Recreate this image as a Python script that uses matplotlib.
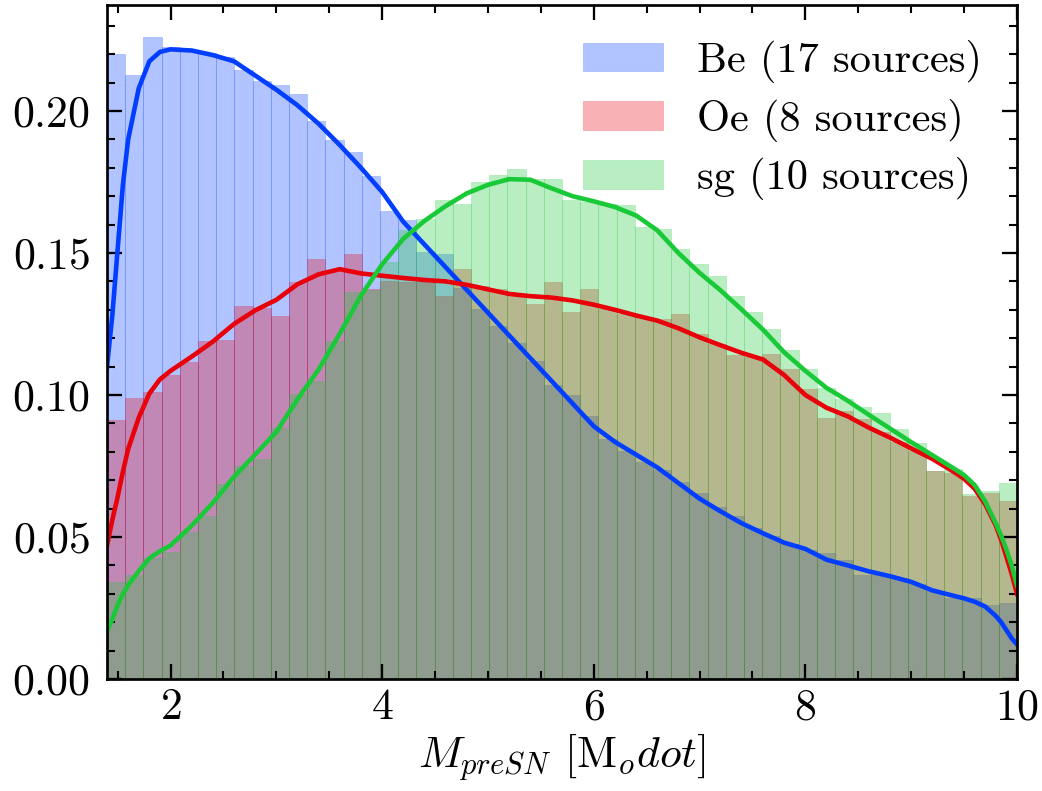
import numpy as np
import matplotlib.pyplot as plt
from matplotlib.ticker import MultipleLocator

# ------------------ DATA ------------------

labels = ["Be (17 sources)", "Oe (8 sources)", "sg (10 sources)"]
colors = ["#023eff", "#e8000b", "#1ac938"]

# 50 equal-width bins between these limits (density-normalised heights)
BIN_LO, BIN_HI, N_BINS = 1.4, 10.0, 50

be_density = [
    0.2200, 0.2125, 0.2260, 0.2225, 0.2210, 0.2205, 0.2190, 0.2145, 0.2105, 0.2090,
    0.2060, 0.1966, 0.1899, 0.1857, 0.1772, 0.1648, 0.1617, 0.1502, 0.1497, 0.1375,
    0.1304, 0.1243, 0.1182, 0.1121, 0.1035, 0.0999, 0.0925, 0.0845, 0.0803, 0.0765,
    0.0735, 0.0695, 0.0655, 0.0605, 0.0575, 0.0530, 0.0505, 0.0475, 0.0455, 0.0445,
    0.0420, 0.0367, 0.0365, 0.0355, 0.0335, 0.0310, 0.0285, 0.0285, 0.0259, 0.0267,
]
oe_density = [
    0.0913, 0.0990, 0.1010, 0.1072, 0.1115, 0.1190, 0.1195, 0.1312, 0.1305, 0.1278,
    0.1398, 0.1480, 0.1440, 0.1495, 0.1374, 0.1403, 0.1397, 0.1397, 0.1350, 0.1444,
    0.1385, 0.1374, 0.1356, 0.1321, 0.1397, 0.1291, 0.1374, 0.1303, 0.1285, 0.1273,
    0.1267, 0.1285, 0.1215, 0.1180, 0.1140, 0.1135, 0.1145, 0.1090, 0.1020, 0.0920,
    0.0944, 0.0915, 0.0870, 0.0835, 0.0803, 0.0732, 0.0726, 0.0644, 0.0656, 0.0627,
]
sg_density = [
    0.0342, 0.0365, 0.0427, 0.0447, 0.0517, 0.0573, 0.0685, 0.0750, 0.0773, 0.0885,
    0.1005, 0.1050, 0.1190, 0.1361, 0.1370, 0.1468, 0.1580, 0.1620, 0.1685, 0.1674,
    0.1750, 0.1774, 0.1795, 0.1762, 0.1762, 0.1685, 0.1679, 0.1674, 0.1668, 0.1591,
    0.1586, 0.1515, 0.1462, 0.1420, 0.1350, 0.1292, 0.1232, 0.1160, 0.1090, 0.1023,
    0.0985, 0.0956, 0.0938, 0.0879, 0.0832, 0.0732, 0.0739, 0.0650, 0.0662, 0.0691,
]

# smoothed density estimates
kde_x = [
    1.40, 1.45, 1.50, 1.55, 1.60, 1.70, 1.80, 1.90, 2.00, 2.20,
    2.40, 2.60, 2.80, 3.00, 3.20, 3.40, 3.60, 3.80, 4.00, 4.20,
    4.40, 4.60, 4.80, 5.00, 5.20, 5.40, 5.60, 5.80, 6.00, 6.20,
    6.40, 6.60, 6.80, 7.00, 7.20, 7.40, 7.60, 7.80, 8.00, 8.20,
    8.40, 8.60, 8.80, 9.00, 9.20, 9.40, 9.50, 9.60, 9.70, 9.80,
    9.85, 9.90, 9.95, 10.00,
]
be_kde = [
    0.1100, 0.1280, 0.1510, 0.1740, 0.1900, 0.2080, 0.2175, 0.2208, 0.2217, 0.2213,
    0.2197, 0.2175, 0.2125, 0.2075, 0.2020, 0.1955, 0.1880, 0.1800, 0.1715, 0.1610,
    0.1530, 0.1450, 0.1370, 0.1290, 0.1210, 0.1130, 0.1050, 0.0970, 0.0890, 0.0835,
    0.0790, 0.0745, 0.0690, 0.0635, 0.0590, 0.0548, 0.0513, 0.0480, 0.0458, 0.0420,
    0.0400, 0.0379, 0.0362, 0.0342, 0.0312, 0.0293, 0.0284, 0.0272, 0.0255, 0.0222,
    0.0200, 0.0172, 0.0143, 0.0122,
]
oe_kde = [
    0.0470, 0.0560, 0.0640, 0.0730, 0.0810, 0.0920, 0.1005, 0.1055, 0.1085, 0.1135,
    0.1188, 0.1250, 0.1298, 0.1335, 0.1390, 0.1425, 0.1443, 0.1428, 0.1420, 0.1412,
    0.1405, 0.1400, 0.1388, 0.1372, 0.1356, 0.1348, 0.1343, 0.1333, 0.1318, 0.1300,
    0.1280, 0.1262, 0.1235, 0.1203, 0.1175, 0.1148, 0.1125, 0.1070, 0.1000, 0.0955,
    0.0925, 0.0885, 0.0850, 0.0812, 0.0775, 0.0730, 0.0705, 0.0670, 0.0615, 0.0540,
    0.0490, 0.0430, 0.0370, 0.0300,
]
sg_kde = [
    0.0170, 0.0210, 0.0260, 0.0300, 0.0330, 0.0380, 0.0425, 0.0450, 0.0470, 0.0540,
    0.0620, 0.0712, 0.0790, 0.0870, 0.0985, 0.1090, 0.1216, 0.1350, 0.1460, 0.1550,
    0.1613, 0.1665, 0.1710, 0.1740, 0.1760, 0.1758, 0.1728, 0.1700, 0.1682, 0.1662,
    0.1632, 0.1580, 0.1500, 0.1430, 0.1368, 0.1300, 0.1230, 0.1150, 0.1085, 0.1025,
    0.0980, 0.0930, 0.0882, 0.0834, 0.0788, 0.0742, 0.0718, 0.0683, 0.0625, 0.0548,
    0.0505, 0.0456, 0.0400, 0.0330,
]

# ------------------ STYLE ------------------

plt.rcParams.update({
    "font.family": "cmr10",
    "mathtext.fontset": "cm",
    "axes.formatter.use_mathtext": True,
    "font.size": 10.5,
    "axes.linewidth": 0.65,
    "xtick.direction": "in",
    "ytick.direction": "in",
    "xtick.top": True,
    "ytick.right": True,
    "xtick.major.size": 3.6,
    "ytick.major.size": 3.6,
    "xtick.minor.size": 1.9,
    "ytick.minor.size": 1.9,
    "xtick.major.width": 0.55,
    "ytick.major.width": 0.55,
    "xtick.minor.width": 0.5,
    "ytick.minor.width": 0.5,
})

# ------------------ PLOT ------------------

fig = plt.figure(figsize=(1042 / 300, 791 / 300), dpi=300)
ax = fig.add_axes([0.1027, 0.1416, 0.8733, 0.852])

edges = np.linspace(BIN_LO, BIN_HI, N_BINS + 1)
widths = np.diff(edges)

for dens, col, lab in zip([be_density, oe_density, sg_density], colors, labels):
    ax.bar(edges[:-1], dens, width=widths, align="edge", color=col,
           edgecolor=col, linewidth=0.15, alpha=0.3, label=lab)

for kde, col in zip([be_kde, oe_kde, sg_kde], colors):
    ax.plot(kde_x, kde, color=col, lw=1.1, solid_joinstyle="round")

ax.set_xlim(BIN_LO, BIN_HI)
ax.set_ylim(0, max(be_density + oe_density + sg_density) * 1.05)

ax.xaxis.set_major_locator(MultipleLocator(2))
ax.xaxis.set_minor_locator(MultipleLocator(0.5))
ax.yaxis.set_major_locator(MultipleLocator(0.05))
ax.yaxis.set_minor_locator(MultipleLocator(0.01))
ax.tick_params(axis="x", which="major", pad=2.2)
ax.tick_params(axis="y", which="major", pad=4)

ax.set_xlabel(r"$M_{preSN}$ [M$_odot$]", fontsize=10.5, labelpad=0.8)
ax.legend(loc="upper right", frameon=False, fontsize=10.2,
          handlelength=1.88, handleheight=0.66, handletextpad=0.8,
          labelspacing=0.37, borderaxespad=0.42)

fig.savefig("out.png", dpi=300)
